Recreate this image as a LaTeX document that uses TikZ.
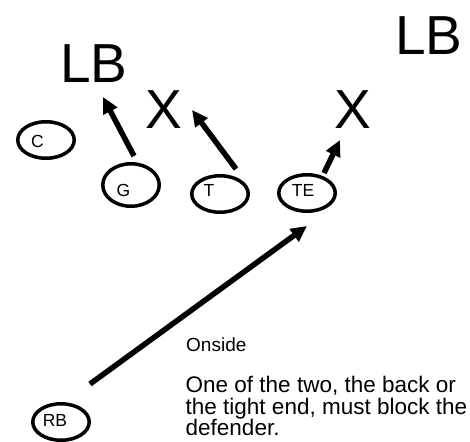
\documentclass[tikz,border=0pt]{standalone}
\usepackage{fontspec}
\setmainfont{Liberation Sans}
\usetikzlibrary{shapes.geometric,arrows.meta}

\tikzset{
  player/.style={draw, ellipse, line width=3.5pt, inner sep=0pt,
    minimum width=56.5pt, minimum height=36.5pt},
  plabel/.style={anchor=base, inner sep=0pt, font=\fontsize{17.5}{17.5}\selectfont},
  defender/.style={anchor=base, inner sep=0pt, font=\fontsize{55}{55}\selectfont},
  move/.style={line width=5.5pt, -{Triangle[length=16pt,width=15pt]}},
  note/.style={inner sep=0pt, align=left}
}

\begin{document}
\begin{tikzpicture}[x=1pt, y=-1pt]
  \useasboundingbox (0,0) rectangle (470,441);

  % defenders
  \node[defender] (lbl) at (94,83) {LB};
  \node[defender] (lbr) at (429,55) {LB};
  \node[defender] (xl) at (163.5,128) {X};
  \node[defender] (xr) at (352.5,128) {X};

  % offensive line and back
  \node[player] (C)  at (46,140)  {};
  \node[player, minimum height=42.5pt] (G)  at (131,185) {};
  \node[player] (T)  at (220,194) {};
  \node[player] (TE) at (307,193) {};
  \node[player] (RB) at (61,422)  {};

  \node[plabel] (Ct)  at (37.5,147) {C};
  \node[plabel] (Gt)  at (123.5,196) {G};
  \node[plabel] (Tt)  at (209,196) {T};
  \node[plabel] (TEt) at (303,196) {TE};
  \node[plabel] (RBt) at (55,426) {RB};

  % blocking paths
  \coordinate (gfrom)  at (134,156);
  \coordinate (gto)    at (103,97);
  \coordinate (tfrom)  at (236,169);
  \coordinate (tto)    at (192,110);
  \coordinate (tefrom) at (324,173);
  \coordinate (teto)   at (340,140);
  \coordinate (rbfrom) at (90,384);
  \coordinate (rbto)   at (307,226);

  \draw[move] (gfrom) -- (gto);
  \draw[move] (tfrom) -- (tto);
  \draw[move] (tefrom) -- (teto);
  \draw[move] (rbfrom) -- (rbto);

  % notes
  \node[note, anchor=base west, font=\fontsize{19}{19}\selectfont] (onside) at (186,351) {Onside};
  \node[note, anchor=north west, font=\fontsize{22.5}{21.5}\selectfont] (rule) at (185.5,376)
    {One of the two, the back or\\the tight end, must block the\\defender.};
\end{tikzpicture}
\end{document}
